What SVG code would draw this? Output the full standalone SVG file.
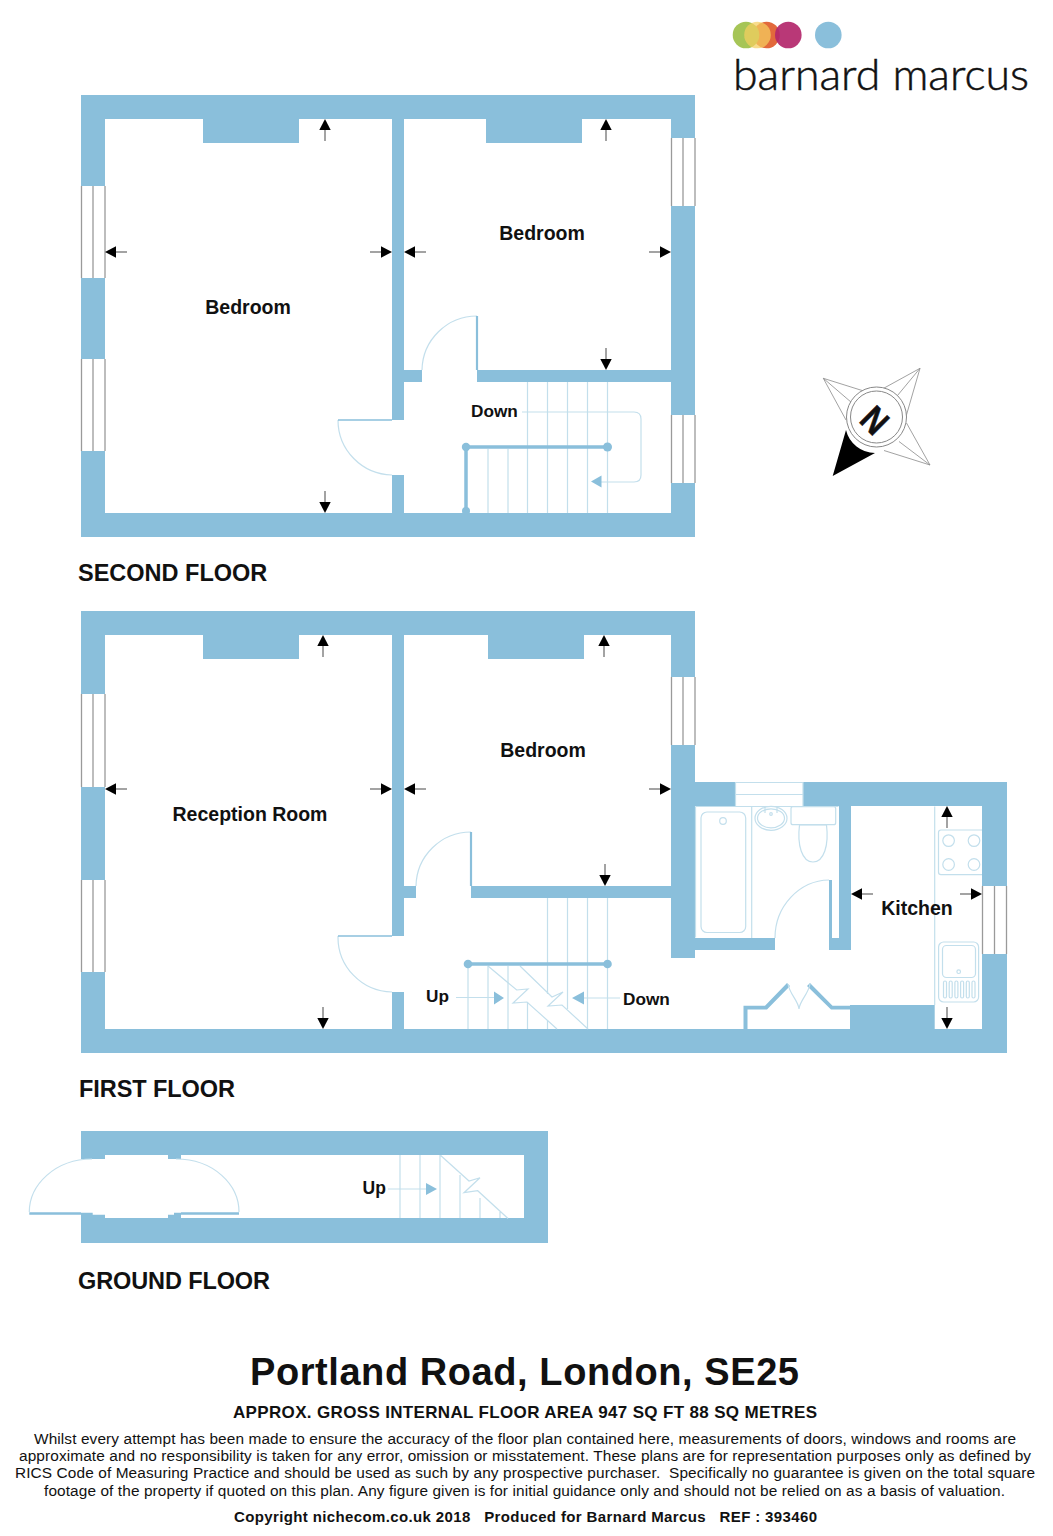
<svg xmlns="http://www.w3.org/2000/svg" width="1053" height="1536" viewBox="0 0 1053 1536">
<style>
.w{fill:#8abfdb}
.wh{fill:#fff}
.l{fill:none;stroke:#c3dfec;stroke-width:1.2}
.hr{fill:none;stroke:#8abfdb;stroke-width:3.5}
.dot{fill:#8abfdb}
.win{stroke:#9a9a9a;stroke-width:1.3;fill:none}
.t{font-family:"Liberation Sans",Arial,sans-serif;font-weight:bold;fill:#111}
.room{font-size:19.5px;text-anchor:middle}
.floor{font-size:23.5px}
.p{font-family:"Liberation Sans",Arial,sans-serif;font-size:15.4px;fill:#111;text-anchor:middle}
</style>
<defs>
<g id="arr"><path d="M0,0L-5.7,11H5.7Z" fill="#000"/><path d="M0,11V22" stroke="#666" stroke-width="1.2"/></g>
</defs>

<g id="logo">
<circle cx="766.500" cy="35" r="13.300" fill="#e2693c"/>
<circle cx="746" cy="35" r="13.300" fill="#a6c557"/>
<circle cx="757.500" cy="35" r="13.300" fill="#f5cf60" opacity=".72"/>
<circle cx="788.300" cy="35" r="13.300" fill="#b3276b" opacity=".92"/>
<circle cx="828.300" cy="35" r="13.300" fill="#8abfdb"/>
<text x="733" y="90" font-family="Lato,'Open Sans',sans-serif" font-weight="300" font-size="44" stroke="#111" stroke-width=".5" textLength="296" lengthAdjust="spacingAndGlyphs" fill="#111">barnard marcus</text>
</g>

<g id="second-floor">
<path class="w" fill-rule="evenodd" d="M81,95H695V537H81ZM105,119V513H392V475H404V513H671V382H477V370H671V119H582V143H486V119H404V420H392V119H299V143H203V119Z"/>
<rect class="w" x="404" y="370" width="18" height="12"/>
<g id="sf-windows">
<rect class="wh" x="81" y="186" width="24" height="92"/><path class="win" d="M81.500,186V278M93,186V278M105,186V278"/>
<rect class="wh" x="81" y="359" width="24" height="92"/><path class="win" d="M81.500,359V451M93,359V451M105,359V451"/>
<rect class="wh" x="671" y="138" width="24" height="68"/><path class="win" d="M671.500,138V206M683,138V206M695,138V206"/>
<rect class="wh" x="671" y="415" width="24" height="68"/><path class="win" d="M671.500,415V483M683,415V483M695,415V483"/>
</g>
<g id="sf-doors">
<path class="l" d="M338,420A55,55 0 0 0 392,475M422,370A55,55 0 0 1 477,316"/>
<path d="M338,420H392" stroke="#8abfdb" stroke-width="1.600"/>
<path d="M477,316V370" stroke="#8abfdb" stroke-width="2.200"/>
</g>
<g id="sf-stairs">
<path class="l" d="M527.500,382V513M547.500,382V513M567.500,382V513M587.500,382V513M607.500,382V513M488,449V513M508,449V513"/>
<path class="l" d="M522,412H634Q641,412 641,419V475Q641,482 634,482H600"/>
<path class="dot" d="M591,481.500L601.500,475.500V487.500Z"/>
<path class="hr" d="M466,447H607M466,447V513"/>
<circle class="dot" cx="466" cy="447" r="4.200"/><circle class="dot" cx="607.500" cy="447" r="4.500"/><circle class="dot" cx="466" cy="511" r="4"/>
</g>
<g id="sf-labels">
<text class="t room" x="248" y="314">Bedroom</text>
<text class="t room" x="542" y="240">Bedroom</text>
<text class="t" x="471" y="417" font-size="17.200">Down</text>
<text class="t floor" x="78" y="581">SECOND FLOOR</text>
</g>
</g>

<g id="first-floor">
<path class="w" fill-rule="evenodd" d="M81,611H695V782H1007V1053H81ZM105,635V1029H392V992H404V1029H982V806H851V950H831V938H839V806H695V938H775V950H695V958H671V898H471V886H671V635H584V659H488V635H404V936H392V635H299V659H203V635Z"/>
<rect class="w" x="404" y="886" width="12" height="12"/>
<rect class="w" x="850" y="1005" width="84.700" height="24"/>
<path class="w" d="M743.500,1029V1005.700H765L787,983L790,986L767,1009.500H747.500V1029Z"/>
<path class="w" d="M810,983L832.500,1005.700H850V1009.500H831L807,986Z"/>
<rect class="w" x="829" y="880" width="3" height="70"/>
<g id="ff-windows">
<rect class="wh" x="81" y="694" width="24" height="93"/><path class="win" d="M81.500,694V787M93,694V787M105,694V787"/>
<rect class="wh" x="81" y="880" width="24" height="92"/><path class="win" d="M81.500,880V972M93,880V972M105,880V972"/>
<rect class="wh" x="671" y="677" width="24" height="68"/><path class="win" d="M671.500,677V745M683,677V745M695,677V745"/>
<rect class="wh" x="982" y="886" width="25" height="68"/><path class="win" d="M982.500,886V954M994.500,886V954M1006.500,886V954"/>
<rect class="wh" x="735.500" y="782" width="67.500" height="24.500"/><path class="l" d="M735.500,782.500H803M735.500,794.500H803M735.500,806.500H803M735.500,782V806M803,782V806"/>
</g>
<g id="ff-doors">
<path class="l" d="M338,936A55,55 0 0 0 392,992M416,886A55,55 0 0 1 471,832M775,938A55,58 0 0 1 829,880M788,984C790,995 798,1000 799,1009C800,1000 808,995 810,984"/>
<path d="M338,936H392" stroke="#8abfdb" stroke-width="1.600"/>
<path d="M471,832V886" stroke="#8abfdb" stroke-width="2.200"/>
</g>
<g id="ff-stairs">
<path class="l" d="M547.500,898V994M547.500,1020V1029M567.500,898V1009M587.500,898V1029M607.500,898V1029M468,966V1029M488,966V1029M508,966V1029M527.500,1002V1029"/>
<path class="l" d="M488,966L516.700,990L528,989L513,1003L527,1002L557,1029M520,966L552,997L563,992L548,1006L562,1005L588,1029"/>
<path class="l" d="M456,997.500H494M584,998H620"/>
<path class="dot" d="M494,991.500L504,998L494,1004.500ZM572,998L584,991.500V1004.500Z"/>
<path class="hr" d="M468,964H607"/>
<circle class="dot" cx="468" cy="964" r="4.300"/><circle class="dot" cx="607.500" cy="964" r="4.300"/>
</g>
<g id="ff-fixtures">
<path class="l" d="M695.500,806.500H838.500M695.500,806.500V937.500M751.700,806.500V938M934.700,806.500V1005"/>
<rect class="l" x="701" y="812" width="44.700" height="120.500" rx="6"/>
<circle class="l" cx="723" cy="821" r="3.300"/>
<ellipse class="l" cx="771" cy="818.300" rx="16" ry="12"/><ellipse class="l" cx="771" cy="818.300" rx="13.500" ry="9.500"/>
<circle class="l" cx="771" cy="814" r="1.300"/><path class="l" d="M765,807V813M777,807V813"/>
<rect class="l" x="791" y="806.700" width="44.700" height="18" rx="2"/>
<path class="l" d="M799.500,825C797,845 802,862 813,862C824,862 829,845 826.500,825Z"/>
<rect class="wh" x="938" y="830" width="44" height="44.600"/><path class="l" d="M982,830H941Q938.500,830 938.500,832.500V872Q938.500,874.600 941,874.600H982"/>
<circle class="l" cx="948.600" cy="840.600" r="5.800"/><circle class="l" cx="974" cy="840.600" r="5.800"/><circle class="l" cx="948.600" cy="864.500" r="5.800"/><circle class="l" cx="974" cy="864.500" r="5.800"/>
<rect class="l" x="938.600" y="942" width="40" height="60" rx="5"/>
<rect class="l" x="942.500" y="945.500" width="33" height="32" rx="4"/>
<circle class="l" cx="958.700" cy="971.700" r="1.800"/>
<rect class="l" x="943.500" y="981" width="3" height="17" rx="1.500"/><rect class="l" x="949.200" y="981" width="3" height="17" rx="1.500"/><rect class="l" x="954.900" y="981" width="3" height="17" rx="1.500"/><rect class="l" x="960.600" y="981" width="3" height="17" rx="1.500"/><rect class="l" x="966.300" y="981" width="3" height="17" rx="1.500"/><rect class="l" x="972" y="981" width="3" height="17" rx="1.500"/>
</g>
<g id="ff-labels">
<text class="t room" x="250" y="821">Reception Room</text>
<text class="t room" x="543" y="757">Bedroom</text>
<text class="t room" x="917" y="915">Kitchen</text>
<text class="t" x="426" y="1002" font-size="17.200">Up</text>
<text class="t" x="623" y="1005" font-size="17.200">Down</text>
<text class="t floor" x="79" y="1097" textLength="156">FIRST FLOOR</text>
</g>
</g>

<g id="ground-floor">
<path class="w" d="M81,1131H548V1243H81V1212.700H92.700V1214.700H105V1218H168V1214.700H174V1212.700H181V1218H524V1155H181V1159H168V1155H105V1159H81Z"/>
<path class="l" d="M29.300,1212C29.300,1185 55,1159 92,1159M239,1212C239,1185 214,1159 176,1159"/>
<path d="M29.300,1213.500H81M181,1213.500H239" stroke="#8abfdb" stroke-width="2.500"/>
<path class="l" d="M400,1155V1218M420,1155V1218M440,1155V1218M460,1175V1218M480,1198V1218M500,1212V1218M440.700,1155.500L469,1181L480,1177.700L464,1192.700L477.700,1190.700L508,1218.500M388,1189H426"/>
<path class="dot" d="M426,1183L437,1189L426,1195Z"/>
<text class="t" x="362.500" y="1194" font-size="17.500">Up</text>
<text class="t floor" x="78" y="1289" textLength="192">GROUND FLOOR</text>
</g>

<g id="compass">
<path fill="none" stroke="#8a8a8a" stroke-width=".8" d="M823.300,378.300L868.500,392.500M823.300,378.300L851.500,402.500M823.300,378.300L846,420M920,368.300L876,392.500M920,368.300L895,398.500M920,368.300L905,420M930,465L906.500,423M930,465L899,441.500M930,465L884,450.500"/>
<circle cx="876.500" cy="417" r="30" fill="#fff" stroke="#888" stroke-width="1"/>
<circle cx="876.500" cy="417" r="26" fill="#fff" stroke="#888" stroke-width="1"/>
<path fill="#000" d="M832.700,476L846,430A30,30 0 0 0 875,453Z"/>
<text class="t" x="0" y="0" font-size="36" text-anchor="middle" stroke="#111" stroke-width=".6" transform="translate(875,420) rotate(45) translate(0,13) scale(.86,1)">N</text>
</g>

<g id="dimension-arrows">
<use href="#arr" transform="translate(325,119)"/>
<use href="#arr" transform="translate(606,119)"/>
<use href="#arr" transform="translate(105,252) rotate(-90)"/>
<use href="#arr" transform="translate(392,252) rotate(90)"/>
<use href="#arr" transform="translate(404,252) rotate(-90)"/>
<use href="#arr" transform="translate(671,252) rotate(90)"/>
<use href="#arr" transform="translate(606,370) rotate(180)"/>
<use href="#arr" transform="translate(325,513) rotate(180)"/>
<use href="#arr" transform="translate(323,635)"/>
<use href="#arr" transform="translate(604,635)"/>
<use href="#arr" transform="translate(105,789) rotate(-90)"/>
<use href="#arr" transform="translate(392,789) rotate(90)"/>
<use href="#arr" transform="translate(404,789) rotate(-90)"/>
<use href="#arr" transform="translate(671,789) rotate(90)"/>
<use href="#arr" transform="translate(605,886) rotate(180)"/>
<use href="#arr" transform="translate(323,1029) rotate(180)"/>
<use href="#arr" transform="translate(851,894) rotate(-90)"/>
<use href="#arr" transform="translate(982,894) rotate(90)"/>
<use href="#arr" transform="translate(947,806)"/>
<use href="#arr" transform="translate(947,1029) rotate(180)"/>
</g>

<g id="caption">
<text class="t" x="524.500" y="1385" font-size="38" text-anchor="middle" textLength="549">Portland Road, London, SE25</text>
<text class="t" x="525" y="1418" font-size="17" text-anchor="middle" textLength="584">APPROX. GROSS INTERNAL FLOOR AREA 947 SQ FT 88 SQ METRES</text>
<text class="p" x="525" y="1444" textLength="982">Whilst every attempt has been made to ensure the accuracy of the floor plan contained here, measurements of doors, windows and rooms are</text>
<text class="p" x="525" y="1461" textLength="1012">approximate and no responsibility is taken for any error, omission or misstatement. These plans are for representation purposes only as defined by</text>
<text class="p" x="525" y="1478" textLength="1020" style="white-space:pre">RICS Code of Measuring Practice and should be used as such by any prospective purchaser.  Specifically no guarantee is given on the total square</text>
<text class="p" x="524.500" y="1496" textLength="961">footage of the property if quoted on this plan. Any figure given is for initial guidance only and should not be relied on as a basis of valuation.</text>
<text class="t" x="525.500" y="1522" font-size="15" text-anchor="middle" textLength="583" style="white-space:pre">Copyright nichecom.co.uk 2018   Produced for Barnard Marcus   REF : 393460</text>
</g>
</svg>
